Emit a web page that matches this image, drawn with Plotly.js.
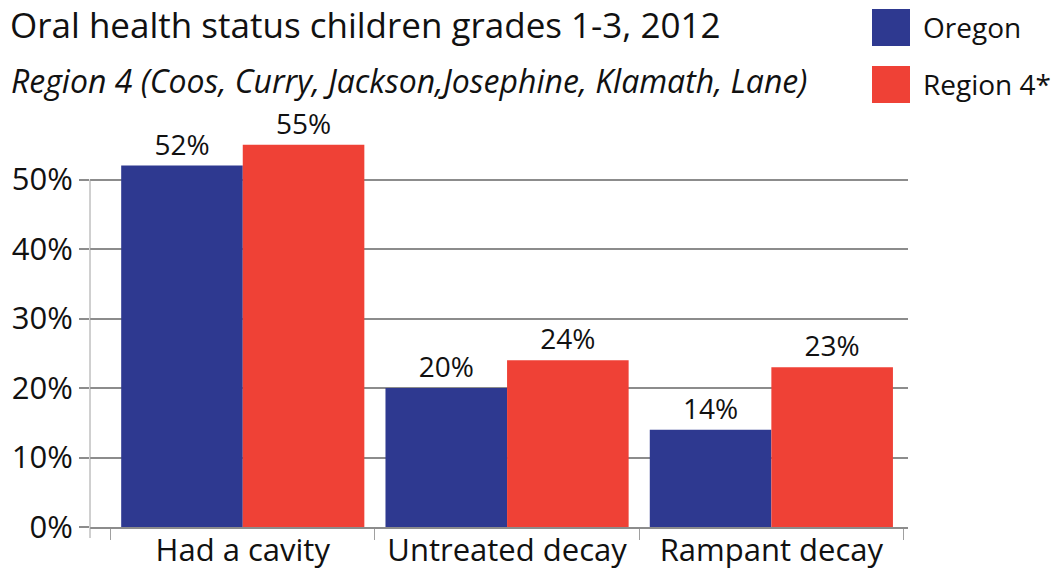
<!DOCTYPE html>
<html>
<head>
<meta charset="utf-8">
<script src="https://cdn.plot.ly/plotly-3.0.1.min.js"></script>
<style>
html,body{margin:0;padding:0;background:#fff;}
#chart{width:1059px;height:570px;}
</style>
</head>
<body>
<div id="chart"></div>
<script>
// ---- data ----
const categories = ["Had a cavity", "Untreated decay", "Rampant decay"];
const seriesNames = ["Oregon", "Region 4*"];
const oregonValues = [0.52, 0.20, 0.14];
const regionValues = [0.55, 0.24, 0.23];
const yTickValues = [0, 0.1, 0.2, 0.3, 0.4, 0.5];
const yTickLabels = ["0%", "10%", "20%", "30%", "40%", "50%"];
const titleText = "Oral health status children grades 1-3, 2012";
const subtitleText = "Region 4 (Coos, Curry, Jackson,Josephine, Klamath, Lane)";

// ---- style ----
const colors = ["#2e3990", "#ef4136"];
const FONT = "'Open Sans', 'Noto Sans', sans-serif";
const gridColor = "#8c8c8c";
const yMax = 0.6;

const seriesValues = [oregonValues, regionValues];
const traces = seriesValues.map((vals, i) => ({
  type: "bar",
  name: seriesNames[i],
  x: categories,
  y: vals,
  marker: {color: colors[i], line: {width: 0}},
  text: vals.map(v => Math.round(v * 100) + "%"),
  textposition: "outside",
  cliponaxis: false,
  textfont: {family: FONT, size: 28, color: "#111"},
  hoverinfo: "skip",
  showlegend: false
}));

const plotTopPx = 110, plotBottomPx = 527, plotH = plotBottomPx - plotTopPx;

// custom legend (large swatches)
const legendShapes = seriesNames.map((n, i) => ({
  type: "rect", xref: "paper", yref: "paper",
  x0: (872 - 90) / 818, x1: (910 - 90) / 818,
  y0: (plotBottomPx - (46 + i * 57)) / plotH, y1: (plotBottomPx - (9 + i * 57)) / plotH,
  fillcolor: colors[i], line: {width: 0}, layer: "above"
}));
const legendAnn = seriesNames.map((n, i) => ({
  text: n, xref: "paper", yref: "paper",
  x: (921 - 90) / 818, xanchor: "left",
  y: (plotBottomPx - (27 + i * 57)) / plotH, yanchor: "middle",
  showarrow: false, font: {family: FONT, size: 28, color: "#111"}
}));

const layout = {
  width: 1059, height: 570,
  margin: {l: 90, r: 151, t: plotTopPx, b: 570 - plotBottomPx},
  paper_bgcolor: "#fff", plot_bgcolor: "#fff",
  font: {family: FONT, color: "#111"},
  barmode: "group", bargap: 0.08, bargroupgap: 0,
  xaxis: {
    type: "category",
    range: [-0.578, 2.517],
    showgrid: false, zeroline: false,
    showline: true, linecolor: gridColor, linewidth: 2,
    ticks: "outside", tickson: "boundaries", ticklen: 11, tickwidth: 1, tickcolor: "#a0a0a0",
    tickfont: {family: FONT, size: 31, color: "#111"},
    ticklabelstandoff: -5,
    fixedrange: true
  },
  yaxis: {
    range: [0, yMax],
    tickvals: yTickValues, ticktext: yTickLabels,
    showgrid: true, gridcolor: gridColor, gridwidth: 2,
    zeroline: false, showline: false,
    ticks: "outside", ticklen: 10, tickwidth: 2, tickcolor: gridColor,
    tickfont: {family: FONT, size: 31, color: "#111"},
    ticklabelstandoff: 0,
    fixedrange: true
  },
  shapes: [
    {type: "line", xref: "paper", yref: "paper", x0: 0, x1: 0,
     y0: -11 / plotH, y1: 0.5 / yMax, line: {color: "#a0a0a0", width: 1}, layer: "above"}
  ].concat(legendShapes),
  annotations: [
    {text: titleText, xref: "paper", yref: "paper",
     x: -82 / 818, xanchor: "left", y: (plotBottomPx - 25) / plotH, yanchor: "middle",
     showarrow: false, font: {family: FONT, size: 35, color: "#111"}},
    {text: "<i>" + subtitleText + "</i>", xref: "paper", yref: "paper",
     x: -81 / 818, xanchor: "left", y: (plotBottomPx - 80) / plotH, yanchor: "middle",
     showarrow: false, font: {family: FONT, size: 32, color: "#111"}}
  ].concat(legendAnn)
};

Plotly.newPlot("chart", traces, layout, {displayModeBar: false, staticPlot: true});
</script>
</body>
</html>
